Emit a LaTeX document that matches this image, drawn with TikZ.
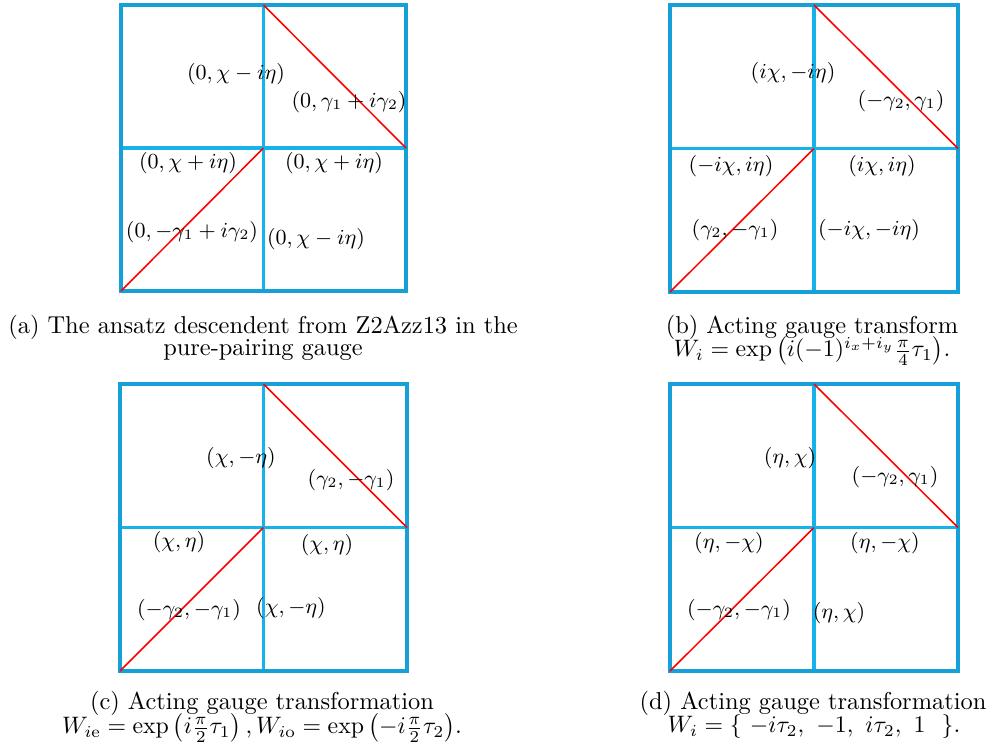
\documentclass[tikz,border=0pt]{standalone}
\usepackage{amsmath}
\definecolor{outerblue}{RGB}{22,160,216}
\definecolor{innerblue}{RGB}{22,178,234}
\tikzset{
  outerframe/.style={draw=outerblue, line width=1.7pt},
  gridline/.style={draw=innerblue, line width=1.3pt},
  diagline/.style={draw=red, line width=0.65pt},
  lab/.style={inner sep=0pt, font=\fontsize{8.6}{10}\selectfont},
  captext/.style={inner sep=0pt, font=\fontsize{10.25}{11}\selectfont},
}
\newcommand{\panel}[5]{%
  % #1 name, #2 left, #3 top, #4 right, #5 bottom
  \coordinate (#1tl) at (#2,#3);
  \coordinate (#1br) at (#4,#5);
  \coordinate (#1tr) at (#4,#3);
  \coordinate (#1bl) at (#2,#5);
  \coordinate (#1tm) at ({(#2+#4)/2},#3);
  \coordinate (#1bm) at ({(#2+#4)/2},#5);
  \coordinate (#1ml) at (#2,{(#3+#5)/2});
  \coordinate (#1mr) at (#4,{(#3+#5)/2});
  \coordinate (#1c) at ({(#2+#4)/2},{(#3+#5)/2});
  \draw[gridline] (#1tm) -- (#1bm);
  \draw[gridline] (#1ml) -- (#1mr);
  \draw[outerframe] (#1tl) rectangle (#1br);
  \draw[diagline] (#1tm) -- (#1mr);
  \draw[diagline] (#1bl) -- (#1c);
}
\begin{document}
\begin{tikzpicture}[x=0.42pt,y=-0.42pt]
\useasboundingbox (0,0) rectangle (992,754);
% panels
\panel{a}{121}{5}{406}{291}
\panel{b}{670}{5}{958}{292}
\panel{c}{120}{384}{407}{671}
\panel{d}{670}{384}{958}{671}
% panel (a) labels
\node[lab] (a1) at (236,74) {$(0,\chi-i\eta)$};
\node[lab] (a2) at (349,102) {$(0,\gamma_1+i\gamma_2)$};
\node[lab] (a3) at (188,163) {$(0,\chi+i\eta)$};
\node[lab] (a4) at (334,163) {$(0,\chi+i\eta)$};
\node[lab] (a5) at (192,232) {$(0,-\gamma_1+i\gamma_2)$};
\node[lab] (a6) at (316,239) {$(0,\chi-i\eta)$};
% panel (b) labels
\node[lab] (b1) at (793,73) {$(i\chi,-i\eta)$};
\node[lab] (b2) at (901,101) {$(-\gamma_2,\gamma_1)$};
\node[lab] (b3) at (731,166) {$(-i\chi,i\eta)$};
\node[lab] (b4) at (882,166) {$(i\chi,i\eta)$};
\node[lab] (b5) at (735,230) {$(\gamma_2,-\gamma_1)$};
\node[lab] (b6) at (869,230) {$(-i\chi,-i\eta)$};
% panel (c) labels
\node[lab] (c1) at (241,458) {$(\chi,-\eta)$};
\node[lab] (c2) at (351,480) {$(\gamma_2,-\gamma_1)$};
\node[lab] (c3) at (179,542) {$(\chi,\eta)$};
\node[lab] (c4) at (327,545) {$(\chi,\eta)$};
\node[lab] (c5) at (189,610) {$(-\gamma_2,-\gamma_1)$};
\node[lab] (c6) at (291,608) {$(\chi,-\eta)$};
% panel (d) labels
\node[lab] (d1) at (790,458) {$(\eta,\chi)$};
\node[lab] (d2) at (895,477) {$(-\gamma_2,\gamma_1)$};
\node[lab] (d3) at (729,543) {$(\eta,-\chi)$};
\node[lab] (d4) at (885,543) {$(\eta,-\chi)$};
\node[lab] (d5) at (739,610) {$(-\gamma_2,-\gamma_1)$};
\node[lab] (d6) at (839,613) {$(\eta,\chi)$};
% captions
\node[captext] (capa1) at (263,327) {(a) The ansatz descendent from Z2Azz13 in the};
\node[captext] (capa2) at (263,350) {pure-pairing gauge};
\node[captext] (capb1) at (812,327) {(b) Acting gauge transform};
\node[captext] (capb2) at (812,351) {$W_i=\exp\left(i(-1)^{i_x+i_y}\frac{\pi}{4}\tau_1\right)$.};
\node[captext] (capc1) at (262,703) {(c) Acting gauge transformation};
\node[captext] (capc2) at (262,728) {$W_{i\mathrm{e}}=\exp\left(i\frac{\pi}{2}\tau_1\right),W_{i\mathrm{o}}=\exp\left(-i\frac{\pi}{2}\tau_2\right)$.};
\node[captext] (capd1) at (813,703) {(d) Acting gauge transformation};
\node[captext] (capd2) at (814,727) {$W_i=\{\ -i\tau_2,\ -1,\ i\tau_2,\ 1\ \ \}$.};
\end{tikzpicture}
\end{document}
